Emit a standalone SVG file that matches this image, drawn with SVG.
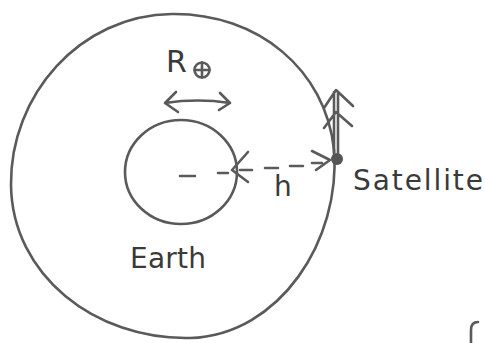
<svg xmlns="http://www.w3.org/2000/svg" width="485" height="343" viewBox="0 0 485 343">
<style>
.s{fill:none;stroke:#5a5a5a;stroke-width:2.6;stroke-linecap:round;stroke-linejoin:round}
.t{font-family:"DejaVu Sans","Liberation Sans",sans-serif;fill:#3a3a3a}
</style>
<rect width="485" height="343" fill="#fff"/>
<g id="orbit"><path class="s" d="M172,14 C258,13 326,70 334,150 C341,240 280,335 190,338 C95,340 12,275 11,185 C10,95 80,15 172,14 Z"/></g>
<g id="earth"><ellipse class="s" cx="181" cy="172" rx="56" ry="52"/>
<text class="t" x="130" y="268" font-size="28" textLength="76">Earth</text></g>
<g id="radius-label">
<text class="t" x="166" y="72" font-size="30">R</text>
<circle class="s" cx="202" cy="70" r="7.5"/><path class="s" d="M194.5,70 H209.5 M202,62.5 V77.5"/>
<path class="s" d="M165,103 C185,100 210,100 230,103 M176,92 L165,103 L178,112 M220,93 L230,103 L219,110"/>
</g>
<g id="satellite"><circle cx="337" cy="159" r="6" fill="#555"/>
<text class="t" x="353" y="190" font-size="28" textLength="130">Satellite</text></g>
<g id="connectors">
<path class="s" d="M180,176 H195 M218,173 H228 M240,170 H252 M265,168 H278 M290,166 H303 M312,163 H322"/>
<path class="s" d="M248,152 L232,170 L248,182"/>
<path class="s" d="M312,151 L330,160 L316,170"/>
<path class="s" d="M334,153 V92 M338,153 V92 M324,108 L336,90 L353,106 M324,128 L336,112 L352,126"/>
<text class="t" x="274" y="196" font-size="28">h</text>
</g>
<path class="s" d="M471,343 V330 Q471,322 478,322"/>
</svg>
